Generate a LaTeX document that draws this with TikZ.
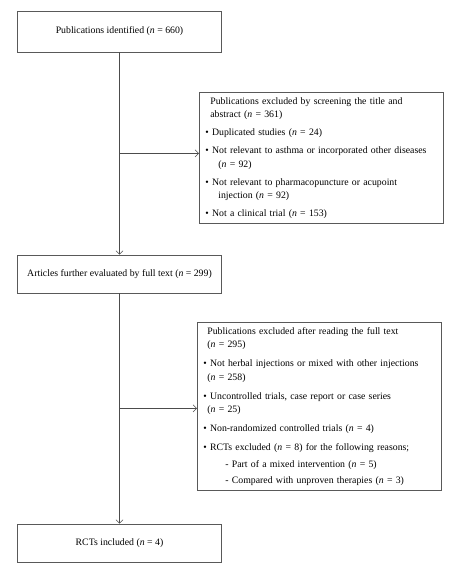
\documentclass[tikz,border=0pt]{standalone}
\usepackage{fontspec}
\setmainfont{Liberation Serif}
\usepackage{tikz}
\usetikzlibrary{positioning,arrows.meta}

\tikzset{
  box/.style={draw=black!65, line width=0.7pt, minimum width=204pt, minimum height=39pt,
    font=\fontsize{9.8}{13.5}\selectfont},
  exbox/.style={draw=black!65, line width=0.7pt, text width=232pt, align=left,
    inner xsep=6pt, inner ysep=5pt, font=\fontsize{9.8}{13.5}\selectfont},
  flow/.style={draw=black!70, line width=0.6pt, -{Straight Barb[length=3.5pt,width=7pt]}}
}
\newcommand{\nn}{\textit{n}}
\newcommand{\itm}{\textbullet\ }

\begin{document}
\begin{tikzpicture}[x=1pt,y=-1pt]
\useasboundingbox (0,0) rectangle (459,570);

% main flow
\node[box, minimum height=41pt] (ident) at (119.5,31.5) {Publications identified (\nn{} = 660)};
\node[box, minimum height=38pt] (full) at (119.5,274) {Articles further evaluated by full text (\nn{} = 299)};
\node[box, minimum height=38pt] (incl) at (119.5,543) {RCTs included (\nn{} = 4)};

% exclusions
\node[exbox, anchor=north west] (exA) at (199,92) {%
\hspace*{5pt}Publications excluded by screening the title and\\
\hspace*{5pt}abstract (\nn{} = 361)\\[4.5pt]
\itm Duplicated studies (\nn{} = 24)\\[4.5pt]
\itm Not relevant to asthma or incorporated other diseases\\
\hspace*{13pt}(\nn{} = 92)\\[4.5pt]
\itm Not relevant to pharmacopuncture or acupoint\\
\hspace*{13pt}injection (\nn{} = 92)\\[4.5pt]
\itm Not a clinical trial (\nn{} = 153)};

\node[exbox, anchor=north west] (exB) at (197,322) {%
\hspace*{4pt}Publications excluded after reading the full text\\
\hspace*{4pt}(\nn{} = 295)\\[5.5pt]
\itm Not herbal injections or mixed with other injections\\
\hspace*{4pt}(\nn{} = 258)\\[5.5pt]
\itm Uncontrolled trials, case report or case series\\
\hspace*{4pt}(\nn{} = 25)\\[5.5pt]
\itm Non-randomized controlled trials (\nn{} = 4)\\[5.5pt]
\itm RCTs excluded (\nn{} = 8) for the following reasons;\\[3pt]
\hspace*{22pt}- Part of a mixed intervention (\nn{} = 5)\\[3pt]
\hspace*{22pt}- Compared with unproven therapies (\nn{} = 3)};

\coordinate (brA) at ([yshift=-101pt]ident.south);
\coordinate (brB) at ([yshift=-115pt]full.south);

\draw[flow] (ident) -- (full);
\draw[flow] (full) -- (incl);
\draw[flow] (brA) -- (brA -| exA.west);
\draw[flow] (brB) -- (brB -| exB.west);

\end{tikzpicture}
\end{document}
